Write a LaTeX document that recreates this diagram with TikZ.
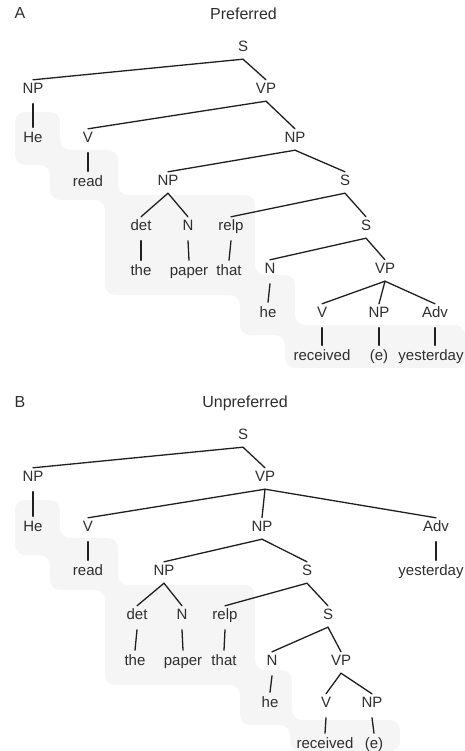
\documentclass[tikz,border=0pt]{standalone}
\usepackage{fontspec}
\setmainfont{Liberation Sans}
\begin{document}
\begin{tikzpicture}[x=1pt,y=-1pt,
  lbl/.style={font=\fontsize{15}{18}\selectfont, text=black!82, inner sep=0pt,
              text height=11pt, text depth=0pt, anchor=base},
  ttl/.style={font=\fontsize{16}{19}\selectfont, text=black!82, inner sep=0pt, anchor=base},
  edge/.style={draw=black!88, line width=1.3pt, line cap=round},
  shade/.style={fill=black!4, draw=none, rounded corners=10pt}]
\useasboundingbox (0,0) rectangle (465,751);

% faint stepped band behind the leaves
\path[shade] (15,112) -- (60,112) -- (60,150) -- (118,150) -- (118,195) -- (255,195)
  -- (255,275) -- (295,275) -- (295,325) -- (465,325) -- (465,368) -- (285,368)
  -- (285,335) -- (240,335) -- (240,295) -- (105,295) -- (105,200) -- (50,200)
  -- (50,165) -- (15,165) -- cycle;
\path[shade] (15,500) -- (60,500) -- (60,538) -- (118,538) -- (118,585) -- (255,585)
  -- (255,670) -- (292,670) -- (292,720) -- (400,720) -- (400,751) -- (290,751)
  -- (290,725) -- (240,725) -- (240,685) -- (105,685) -- (105,590) -- (50,590)
  -- (50,555) -- (15,555) -- cycle;

% unary link and branch link helpers (yshift is in page direction: negative = down)
\newcommand\unary[2]{\draw[edge] ([yshift=-10pt]#1.south) -- ([yshift=4pt]#2.north);}
\newcommand\branch[2]{\draw[edge] ([yshift=-7.5pt]#1.south) -- ([yshift=2.5pt]#2.north);}

% ---------------- tree A ----------------
\node[ttl] (labA) at (20,19) {A};
\node[ttl] (titA) at (243.5,19.5) {Preferred};

\node[lbl] (aS)    at (243,51.5) {S};
\node[lbl] (aNPa)  at (33,93.5)  {NP};
\node[lbl] (aVPa)  at (266,93.5) {VP};
\node[lbl] (aHe)   at (33,142.5) {He};
\node[lbl] (aVa)   at (88,142.5) {V};
\node[lbl] (aNPb)  at (295,142.5){NP};
\node[lbl] (aread) at (88,186.5) {read};
\node[lbl] (aNPc)  at (168,185.5){NP};
\node[lbl] (aSb)   at (345,185.5){S};
\node[lbl] (adet)  at (141,230.5){det};
\node[lbl] (aNa)   at (188,230.5){N};
\node[lbl] (arelp) at (231,230.5){relp};
\node[lbl] (aSc)   at (366,230.5){S};
\node[lbl] (athe)  at (141,275.5){the};
\node[lbl] (apaper)at (189,275.5){paper};
\node[lbl] (athat) at (229,275.5){that};
\node[lbl] (aNb)   at (270,273.5){N};
\node[lbl] (aVPb)  at (385,273.5){VP};
\node[lbl] (ahe)   at (268,317.5){he};
\node[lbl] (aVb)   at (322,317.5){V};
\node[lbl] (aNPd)  at (379,317.5){NP};
\node[lbl] (aAdv)  at (435,317.5){Adv};
\node[lbl] (arec)  at (322,360.5){received};
\node[lbl] (ae)    at (379,360.5){(e)};
\node[lbl] (ayest) at (431,360.5){yesterday};

\branch{aS}{aNPa}  \branch{aS}{aVPa}
\unary{aNPa}{aHe}
\branch{aVPa}{aVa} \branch{aVPa}{aNPb}
\unary{aVa}{aread}
\branch{aNPb}{aNPc} \branch{aNPb}{aSb}
\branch{aNPc}{adet} \branch{aNPc}{aNa}
\branch{aSb}{arelp} \branch{aSb}{aSc}
\unary{adet}{athe} \unary{aNa}{apaper} \unary{arelp}{athat}
\branch{aSc}{aNb} \branch{aSc}{aVPb}
\unary{aNb}{ahe}
\branch{aVPb}{aVb} \branch{aVPb}{aNPd} \branch{aVPb}{aAdv}
\unary{aVb}{arec} \unary{aNPd}{ae}
\draw[edge] ([yshift=-10pt]aAdv.south) -- ([yshift=4pt]aAdv.south |- ayest.north);

% ---------------- tree B ----------------
\node[ttl] (labB) at (20,407) {B};
\node[ttl] (titB) at (245,407.5) {Unpreferred};

\node[lbl] (bS)    at (243,439.5) {S};
\node[lbl] (bNPa)  at (33,481.5)  {NP};
\node[lbl] (bVPa)  at (265,481.5) {VP};
\node[lbl] (bHe)   at (33,531.5)  {He};
\node[lbl] (bVa)   at (88,531.5)  {V};
\node[lbl] (bNPb)  at (262,531.5) {NP};
\node[lbl] (bAdv)  at (436,531.5) {Adv};
\node[lbl] (bread) at (88,575.5)  {read};
\node[lbl] (bNPc)  at (164,575.5) {NP};
\node[lbl] (bSb)   at (307,575.5) {S};
\node[lbl] (byest) at (431,575.5) {yesterday};
\node[lbl] (bdet)  at (137,619.5) {det};
\node[lbl] (bNa)   at (182,619.5) {N};
\node[lbl] (brelp) at (225,619.5) {relp};
\node[lbl] (bSc)   at (328,619.5) {S};
\node[lbl] (bthe)  at (135,665.5) {the};
\node[lbl] (bpaper)at (183,665.5) {paper};
\node[lbl] (bthat) at (224,665.5) {that};
\node[lbl] (bNb)   at (272,665.5) {N};
\node[lbl] (bVPb)  at (341,665.5) {VP};
\node[lbl] (bhe)   at (270,707.5) {he};
\node[lbl] (bVb)   at (326,707.5) {V};
\node[lbl] (bNPd)  at (372,707.5) {NP};
\node[lbl] (brec)  at (325,748.5) {received};
\node[lbl] (be)    at (374,748.5) {(e)};

\branch{bS}{bNPa}  \branch{bS}{bVPa}
\unary{bNPa}{bHe}
\branch{bVPa}{bVa} \branch{bVPa}{bNPb} \branch{bVPa}{bAdv}
\unary{bVa}{bread}
\draw[edge] ([yshift=-10pt]bAdv.south) -- ([yshift=4pt]bAdv.south |- byest.north);
\branch{bNPb}{bNPc} \branch{bNPb}{bSb}
\branch{bNPc}{bdet} \branch{bNPc}{bNa}
\branch{bSb}{brelp} \branch{bSb}{bSc}
\unary{bdet}{bthe} \unary{bNa}{bpaper} \unary{brelp}{bthat}
\branch{bSc}{bNb} \branch{bSc}{bVPb}
\unary{bNb}{bhe}
\branch{bVPb}{bVb} \branch{bVPb}{bNPd}
\unary{bVb}{brec} \unary{bNPd}{be}
\end{tikzpicture}
\end{document}
